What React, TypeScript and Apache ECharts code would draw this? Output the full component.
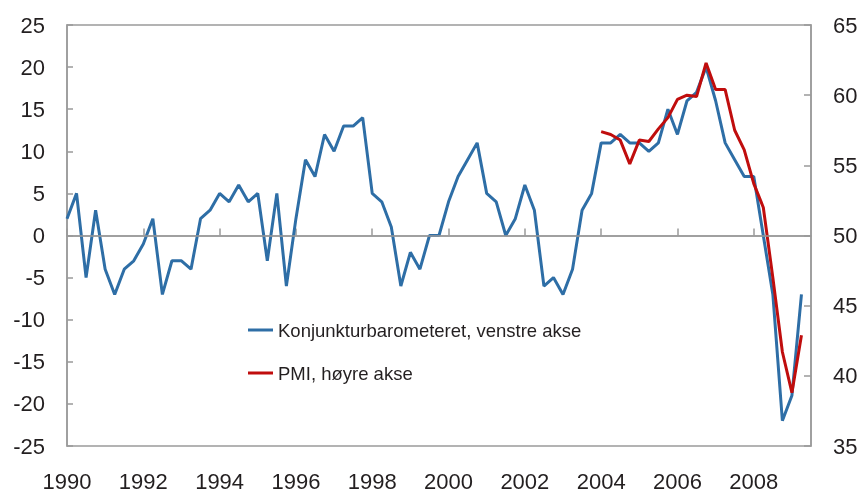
import React, { useEffect, useRef } from "react";
import * as echarts from "echarts";

const years = [1990, 1991, 1992, 1993, 1994, 1995, 1996, 1997, 1998, 1999, 2000, 2001, 2002, 2003, 2004, 2005, 2006, 2007, 2008, 2009];

// Konjunkturbarometeret (left axis), quarterly from 1990Q1
const barometer = [
  2, 5, -5, 3,
  -4, -7, -4, -3,
  -1, 2, -7, -3,
  -3, -4, 2, 3,
  5, 4, 6, 4,
  5, -3, 5, -6,
  2, 9, 7, 12,
  10, 13, 13, 14,
  5, 4, 1, -6,
  -2, -4, 0, 0,
  4, 7, 9, 11,
  5, 4, 0, 2,
  6, 3, -6, -5,
  -7, -4, 3, 5,
  11, 11, 12, 11,
  11, 10, 11, 15,
  12, 16, 17, 20,
  16, 11, 9, 7,
  7, 0, -7, -22,
  -19, -7,
];

// PMI (right axis), quarterly from 2004Q1
const pmiStart = "2004Q1";
const pmi = [
  57.4, 57.2, 56.8, 55.1,
  56.8, 56.7, 57.6, 58.4,
  59.7, 60.0, 59.9, 62.3,
  60.4, 60.4, 57.5, 56.1,
  53.7, 52.0, 47.0, 41.7,
  38.8, 42.9,
];

const leftTicks = { min: -25, max: 25, interval: 5 };
const rightTicks = { min: 35, max: 65, interval: 5 };

const quarters: string[] = [];
years.forEach((y) => {
  ["Q1", "Q2", "Q3", "Q4"].forEach((q) => quarters.push(`${y}${q}`));
});
// axis runs to 2009Q3 (mid-2009)
const axisCats = quarters.slice(0, quarters.indexOf("2009Q3") + 1);

const BLUE = "#2e6ea6";
const RED = "#c00d0d";
const GRAY = "#9a9a9a";
const TEXT = "#231f20";
const FONT = "'Liberation Sans', Arial, sans-serif";

export default function App() {
  const ref = useRef<HTMLDivElement>(null);
  useEffect(() => {
    if (!ref.current) return;
    const chart = echarts.init(ref.current, undefined, { renderer: "svg" });
    const startIdx = axisCats.indexOf(pmiStart);
    const pmiData = pmi.map((v, i) => [axisCats[startIdx + i], v]);
    const baroData = barometer.map((v, i) => [axisCats[i], v]);
    chart.setOption({
      animation: false,
      textStyle: { fontFamily: FONT },
      grid: {
        left: 67,
        right: 52,
        top: 25,
        bottom: 50,
        show: true,
        borderColor: GRAY,
        borderWidth: 1.5,
        backgroundColor: "transparent",
      },
      legend: {
        orient: "vertical",
        left: 248,
        top: 320,
        padding: 0,
        icon: "rect",
        itemWidth: 25,
        itemHeight: 3,
        itemGap: 23,
        textStyle: { fontSize: 18.5, lineHeight: 20, color: TEXT, fontFamily: FONT },
        data: ["Konjunkturbarometeret, venstre akse", "PMI, høyre akse"],
      },
      xAxis: {
        type: "category",
        data: axisCats,
        boundaryGap: false,
        axisLine: { lineStyle: { color: GRAY, width: 1.5 } },
        axisTick: {
          inside: true,
          length: 7,
          interval: (i: number) => i % 8 === 0,
          lineStyle: { color: GRAY, width: 1.5 },
        },
        axisLabel: {
          interval: (i: number) => i % 8 === 0,
          formatter: (v: string) => v.slice(0, 4),
          fontSize: 22,
          color: TEXT,
          margin: 24,
          fontFamily: FONT,
        },
        splitLine: { show: false },
      },
      yAxis: [
        {
          type: "value",
          ...leftTicks,
          position: "left",
          axisLine: { show: true, lineStyle: { color: GRAY, width: 1.5 } },
          axisTick: { show: true, inside: true, length: 6, lineStyle: { color: GRAY, width: 1.5 } },
          axisLabel: { fontSize: 22, color: TEXT, margin: 22, fontFamily: FONT },
          splitLine: { show: false },
        },
        {
          type: "value",
          ...rightTicks,
          position: "right",
          axisLine: { show: true, lineStyle: { color: GRAY, width: 1.5 } },
          axisTick: { show: true, inside: true, length: 7, lineStyle: { color: GRAY, width: 1.5 } },
          axisLabel: { fontSize: 22, color: TEXT, margin: 22, fontFamily: FONT },
          splitLine: { show: false },
        },
      ],
      series: [
        {
          name: "zero",
          type: "line",
          yAxisIndex: 0,
          data: [],
          z: 1,
          markLine: {
            silent: true,
            symbol: "none",
            label: { show: false },
            lineStyle: { color: GRAY, width: 1.5, type: "solid" },
            data: [{ yAxis: 0 }],
          },
        },
        {
          name: "Konjunkturbarometeret, venstre akse",
          type: "line",
          yAxisIndex: 0,
          data: baroData,
          symbol: "none",
          lineStyle: { color: BLUE, width: 3 },
          itemStyle: { color: BLUE },
          z: 2,
        },
        {
          name: "PMI, høyre akse",
          type: "line",
          yAxisIndex: 1,
          data: pmiData,
          symbol: "none",
          lineStyle: { color: RED, width: 3 },
          itemStyle: { color: RED },
          z: 3,
        },
      ],
    });
    return () => chart.dispose();
  }, []);
  return (
    <div
      ref={ref}
      style={{ position: "fixed", left: 0, top: 0, width: 863, height: 496 }}
    />
  );
}
